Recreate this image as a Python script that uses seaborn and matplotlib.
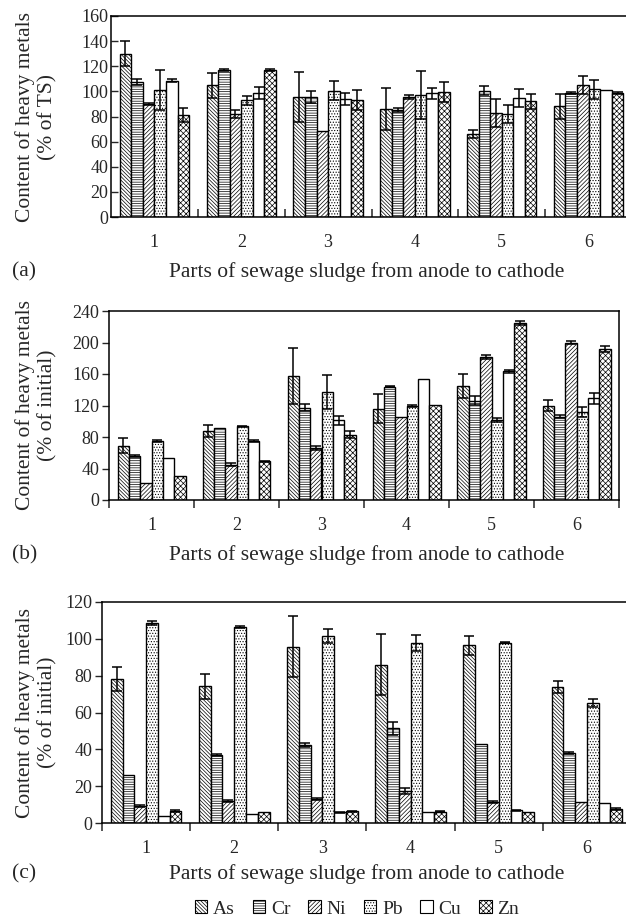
import numpy as np
import pandas as pd
import seaborn as sns
import matplotlib
matplotlib.use("Agg")
import matplotlib.pyplot as plt
from matplotlib.patches import Patch

# ---------------- data ----------------
parts = ["1", "2", "3", "4", "5", "6"]
metals = ["As", "Cr", "Ni", "Pb", "Cu", "Zn"]

# (a) % of TS
a_As = [130, 105, 95.5, 86, 66, 88]
a_Cr = [107.5, 117, 95.5, 85, 100.5, 98.7]
a_Ni = [90, 82, 68.5, 95.5, 83, 105]
a_Pb = [101, 93, 100.5, 97, 82, 101.8]
a_Cu = [108.5, 98.7, 94, 98.5, 94.7, 100.8]
a_Zn = [81, 117, 93, 99.5, 92, 98.7]
a_As_err = [10, 10, 20, 17, 3.5, 10]
a_Cr_err = [2.5, 1, 5, 1.5, 3.5, 1]
a_Ni_err = [0.8, 3, 0, 1.5, 11, 7]
a_Pb_err = [16, 3.7, 7.5, 19, 7, 7.5]
a_Cu_err = [1, 5, 4.5, 4.5, 7, 0]
a_Zn_err = [5.5, 1, 8, 8, 6, 0.8]

# (b) % of initial
b_As = [69, 87.7, 157, 115.7, 144.7, 120]
b_Cr = [56, 92, 117, 144, 126, 106]
b_Ni = [21, 45, 66, 105.5, 181.7, 200]
b_Pb = [75, 93.6, 137, 119.6, 101, 112]
b_Cu = [53, 75, 101, 154, 163.4, 129]
b_Zn = [30.6, 49, 83, 121, 224.7, 192]
b_As_err = [9.5, 7.5, 35.5, 18.5, 15.5, 7.5]
b_Cr_err = [1, 0, 4.5, 1, 5.7, 2]
b_Ni_err = [0, 1.5, 2, 0, 3, 2]
b_Pb_err = [1, 1, 22, 1, 2.5, 6]
b_Cu_err = [0, 1, 6, 0, 1.5, 6.5]
b_Zn_err = [0, 0.8, 4.5, 0, 3, 4]

# (c) % of initial
c_As = [78, 74.3, 95.7, 86, 96.4, 73.7]
c_Cr = [26, 36.7, 42.3, 51.4, 43, 38]
c_Ni = [9.4, 12, 13, 17.3, 11.3, 11.3]
c_Pb = [108.6, 106.3, 101.6, 97.7, 97.8, 65]
c_Cu = [3.8, 4.9, 5.8, 5.9, 7, 10.6]
c_Zn = [6.7, 5.9, 6.3, 6.1, 5.9, 7.7]
c_As_err = [6.5, 6.7, 16.5, 16.5, 5, 3.2]
c_Cr_err = [0, 0.5, 1, 3.5, 0, 0.5]
c_Ni_err = [0.5, 0.5, 0.5, 1.5, 0.5, 0]
c_Pb_err = [1.2, 0.5, 3.8, 4.5, 0.3, 2.2]
c_Cu_err = [0, 0, 0.3, 0, 0.3, 0]
c_Zn_err = [0.5, 0, 0.3, 0.3, 0, 0.5]

a_ticks = [0, 20, 40, 60, 80, 100, 120, 140, 160]
b_ticks = [0, 40, 80, 120, 160, 200, 240]
c_ticks = [0, 20, 40, 60, 80, 100, 120]

xlabel = "Parts of sewage sludge from anode to cathode"
ylabel_a = "Content of heavy metals\n(% of TS)"
ylabel_b = "Content of heavy metals\n(% of initial)"
ylabel_c = "Content of heavy metals\n(% of initial)"

hatches = ["\\" * 9, "-" * 7, "/" * 8, "......", "", "x" * 6]

# ---------------- style ----------------
sns.set_style("ticks")
plt.rcParams["font.family"] = ["Liberation Serif", "DejaVu Serif"]
plt.rcParams["hatch.linewidth"] = 0.5
plt.rcParams["axes.linewidth"] = 1.1

W, H = 626, 918
fig = plt.figure(figsize=(W / 100, H / 100), dpi=100)


def rect(left, right, top, bottom):
    return [left / W, 1 - bottom / H, (right - left) / W, (bottom - top) / H]


def panel(box, vals, errs, yticks, ylab, tickdir, bnd, label_y, plabel):
    ax = fig.add_axes(box)
    rows = []
    for m, v in zip(metals, vals):
        for p, val in zip(parts, v):
            rows.append({"part": p, "metal": m, "value": val})
    df = pd.DataFrame(rows)
    sns.barplot(data=df, x="part", y="value", hue="metal", order=parts,
                hue_order=metals, palette=["white"] * 6, saturation=1,
                edgecolor="black", linewidth=1.0, width=0.8, errorbar=None,
                legend=False, ax=ax)
    for cont, h, e in zip(ax.containers, hatches, errs):
        xs, ys, es = [], [], []
        for bar, err in zip(cont, e):
            bar.set_hatch(h)
            if err > 0:
                xs.append(bar.get_x() + bar.get_width() / 2)
                ys.append(bar.get_height())
                es.append(err)
        if xs:
            ax.errorbar(xs, ys, yerr=es, fmt="none", ecolor="black",
                        elinewidth=1.1, capsize=3.3, capthick=1.1, zorder=5)
    ax.set_xlim(-0.5, 5.5)
    ax.set_ylim(yticks[0], yticks[-1])
    ax.set_yticks(yticks)
    ax.set_xticks(range(6))
    ax.set_xticklabels(parts)
    ax.set_xticks(bnd, minor=True)
    ax.tick_params(axis="x", which="major", length=0, labelsize=13, pad=12)
    ax.tick_params(axis="x", which="minor", length=6, width=1.1,
                   direction=tickdir)
    ax.tick_params(axis="y", which="major", length=5, width=1.0,
                   direction=tickdir, labelsize=13, pad=2)
    for s in ax.spines.values():
        s.set_visible(True)
        s.set_color("black")
    ax.set_ylabel(ylab, fontsize=15.5, linespacing=1.2)
    ax.yaxis.label.set_verticalalignment("center")
    ax.yaxis.set_label_coords((36 - box[0] * W) / (box[2] * W), 0.5)
    ax.set_xlabel(xlabel, fontsize=15.5)
    ax.xaxis.label.set_verticalalignment("center")
    ax.xaxis.set_label_coords((367 - box[0] * W) / (box[2] * W),
                              ((1 - label_y / H) - box[1]) / box[3])
    fig.text(12 / W, 1 - label_y / H, plabel, fontsize=15.5,
             ha="left", va="center")
    return ax


panel(rect(111, 632, 16, 217),
      [a_As, a_Cr, a_Ni, a_Pb, a_Cu, a_Zn],
      [a_As_err, a_Cr_err, a_Ni_err, a_Pb_err, a_Cu_err, a_Zn_err],
      a_ticks, ylabel_a, "in", [0.5, 1.5, 2.5, 3.5, 4.5], 272, "(a)")

panel(rect(109, 619, 311, 500),
      [b_As, b_Cr, b_Ni, b_Pb, b_Cu, b_Zn],
      [b_As_err, b_Cr_err, b_Ni_err, b_Pb_err, b_Cu_err, b_Zn_err],
      b_ticks, ylabel_b, "out", [-0.5, 0.5, 1.5, 2.5, 3.5, 4.5, 5.5], 555, "(b)")

panel(rect(102, 631, 602, 823),
      [c_As, c_Cr, c_Ni, c_Pb, c_Cu, c_Zn],
      [c_As_err, c_Cr_err, c_Ni_err, c_Pb_err, c_Cu_err, c_Zn_err],
      c_ticks, ylabel_c, "out", [-0.5, 0.5, 1.5, 2.5, 3.5, 4.5, 5.5], 874, "(c)")

handles = [Patch(facecolor="white", edgecolor="black", hatch=h, linewidth=0.8)
           for h in hatches]
fig.legend(handles, metals, loc="center", bbox_to_anchor=(357 / W, 1 - 909 / H),
           ncol=6, frameon=False, fontsize=14, handlelength=0.65,
           handleheight=0.65, handletextpad=0.3, columnspacing=0.9)

fig.savefig("out.png", dpi=100)
